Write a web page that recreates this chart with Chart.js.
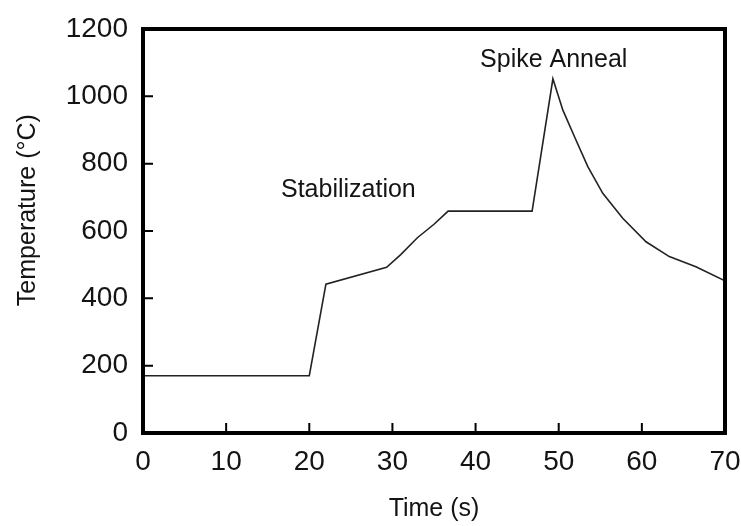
<!DOCTYPE html>
<html>
<head>
<meta charset="utf-8">
<script src="https://cdn.jsdelivr.net/npm/chart.js@4/dist/chart.umd.min.js"></script>
<style>
  html, body { margin: 0; padding: 0; background: #fff; }
  #wrap { width: 741px; height: 526px; }
</style>
</head>
<body>
<div id="wrap"><canvas id="chart" width="741" height="526"></canvas></div>
<script>
// Temperature profile (time in s, temperature in °C)
const timeValues = [0, 20, 22, 29.3, 31, 33, 35, 36.7, 46.8, 49.3, 50.5, 51.9, 53.5, 55.3, 57.7, 60.5, 63.3, 66.5, 70];
const tempValues = [170, 170, 442, 492, 530, 580, 620, 659, 659, 1052, 959, 880, 791, 712, 638, 568, 524, 494, 452];

// Axis ranges and ticks
const xTicks = [0, 10, 20, 30, 40, 50, 60, 70];
const yTicks = [0, 200, 400, 600, 800, 1000, 1200];

// Text labels placed inside the plot
const noteTexts = ['Stabilization', 'Spike Anneal'];
const noteX = [24.7, 49.4];
const noteY = [722, 1108];

const fontFamily = '"Liberation Sans", Arial, sans-serif';
const ink = '#141414';

// Frame, inward tick marks and the notes are drawn on top of the plot
const framePlugin = {
    id: 'frame',
    afterDraw(chart) {
        const ctx = chart.ctx;
        const a = chart.chartArea;
        const xs = chart.scales.x;
        const ys = chart.scales.y;
        ctx.save();
        ctx.strokeStyle = '#000';
        ctx.lineWidth = 4;
        ctx.strokeRect(a.left, a.top, a.right - a.left, a.bottom - a.top);

        // ticks point inward
        ctx.lineWidth = 2;
        ctx.beginPath();
        xTicks.slice(1, -1).forEach(v => {
            const px = xs.getPixelForValue(v);
            ctx.moveTo(px, a.bottom);
            ctx.lineTo(px, a.bottom - 10);
        });
        yTicks.slice(1, -1).forEach(v => {
            const py = ys.getPixelForValue(v);
            ctx.moveTo(a.left, py);
            ctx.lineTo(a.left + 10, py);
        });
        ctx.stroke();

        ctx.fillStyle = ink;
        ctx.font = '25px ' + fontFamily;
        ctx.textAlign = 'center';
        ctx.textBaseline = 'middle';
        noteTexts.forEach((t, i) => {
            ctx.fillText(t, xs.getPixelForValue(noteX[i]), ys.getPixelForValue(noteY[i]));
        });
        ctx.restore();
    }
};

new Chart(document.getElementById('chart'), {
    type: 'line',
    data: {
        datasets: [{
            data: timeValues.map((t, i) => ({ x: t, y: tempValues[i] })),
            borderColor: '#222',
            borderWidth: 1.6,
            pointRadius: 0,
            tension: 0,
            fill: false
        }]
    },
    options: {
        responsive: false,
        animation: false,
        layout: { padding: { top: 29, right: 16, left: 0, bottom: 0 } },
        plugins: {
            legend: { display: false },
            tooltip: { enabled: false }
        },
        scales: {
            x: {
                type: 'linear',
                min: 0,
                max: 70,
                afterBuildTicks: s => { s.ticks = xTicks.map(v => ({ value: v })); },
                afterFit: s => { s.height = 93; s.paddingLeft = 0; s.paddingRight = 0; },
                grid: { display: false, drawTicks: false },
                border: { display: false },
                ticks: {
                    color: ink, padding: 12, maxRotation: 0,
                    font: { size: 28, family: fontFamily },
                    callback: v => String(v)
                },
                title: {
                    display: true,
                    text: 'Time (s)',
                    color: ink,
                    font: { size: 25, family: fontFamily },
                    padding: { top: 0, bottom: 2 }
                }
            },
            y: {
                min: 0,
                max: 1200,
                afterBuildTicks: s => { s.ticks = yTicks.map(v => ({ value: v })); },
                afterFit: s => { s.width = 143; s.paddingTop = 0; s.paddingBottom = 0; },
                grid: { display: false, drawTicks: false },
                border: { display: false },
                ticks: {
                    color: ink, padding: 15,
                    font: { size: 28, family: fontFamily },
                    callback: v => String(v)
                },
                title: {
                    display: true,
                    text: '      Temperature (°C)',
                    color: ink,
                    font: { size: 25, family: fontFamily },
                    padding: { top: 13, bottom: 0 }
                }
            }
        }
    },
    plugins: [framePlugin]
});
</script>
</body>
</html>
